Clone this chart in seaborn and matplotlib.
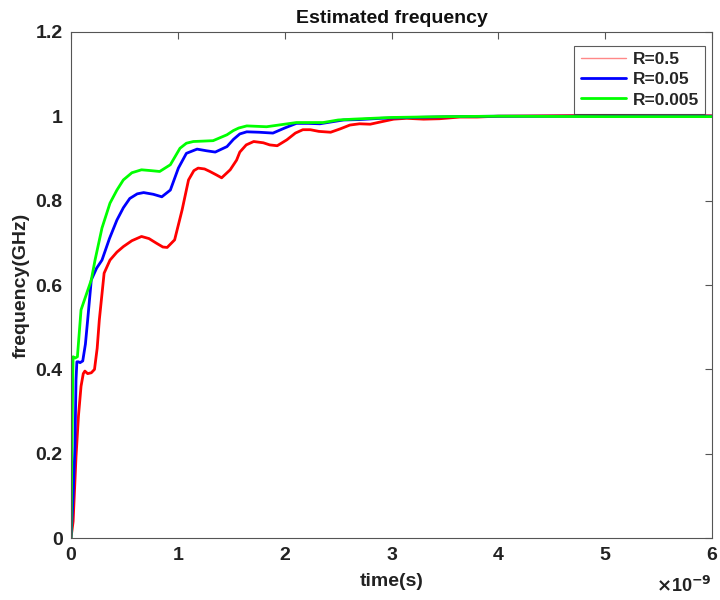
import numpy as np
import pandas as pd
import seaborn as sns
import matplotlib
matplotlib.use("Agg")
import matplotlib.pyplot as plt

# time in units of 1e-9 s
t_r05 = [0, 0.02, 0.047, 0.07, 0.094, 0.115, 0.13, 0.156, 0.19, 0.22, 0.245, 0.265, 0.31, 0.365,
         0.43, 0.49, 0.57, 0.66, 0.73, 0.80, 0.86, 0.90, 0.97, 1.04, 1.10, 1.15, 1.19, 1.25, 1.30,
         1.36, 1.41, 1.49, 1.55, 1.58, 1.64, 1.71, 1.80, 1.86, 1.93, 2.02, 2.10, 2.17, 2.24, 2.32,
         2.43, 2.52, 2.61, 2.70, 2.80, 2.89, 3.02, 3.14, 3.30, 3.45, 3.64, 3.80, 4.0, 4.5, 5.0, 5.5, 6.0]
f_r05 = [0, 0.04, 0.193, 0.29, 0.36, 0.39, 0.396, 0.39, 0.392, 0.40, 0.45, 0.517, 0.628, 0.659,
         0.678, 0.691, 0.705, 0.715, 0.710, 0.699, 0.690, 0.689, 0.707, 0.778, 0.849, 0.871, 0.877,
         0.875, 0.869, 0.861, 0.854, 0.873, 0.896, 0.915, 0.932, 0.940, 0.937, 0.932, 0.930, 0.944,
         0.960, 0.968, 0.968, 0.964, 0.962, 0.970, 0.979, 0.982, 0.981, 0.986, 0.993, 0.995, 0.993,
         0.994, 0.998, 0.998, 1.0, 1.001, 1.002, 1.001, 1.001]

t_r005 = [0, 0.02, 0.037, 0.047, 0.055, 0.07, 0.085, 0.11, 0.135, 0.156, 0.19, 0.24, 0.29, 0.36,
          0.43, 0.49, 0.55, 0.62, 0.68, 0.77, 0.85, 0.93, 1.005, 1.08, 1.18, 1.27, 1.35, 1.46,
          1.52, 1.58, 1.645, 1.76, 1.89, 2.00, 2.11, 2.22, 2.33, 2.45, 2.55, 2.70, 2.9, 3.2, 3.6,
          4.0, 5.0, 6.0]
f_r005 = [0, 0.10, 0.217, 0.375, 0.418, 0.418, 0.416, 0.42, 0.46, 0.517, 0.612, 0.64, 0.659, 0.71,
          0.754, 0.783, 0.805, 0.816, 0.819, 0.815, 0.809, 0.825, 0.877, 0.912, 0.922, 0.918, 0.915,
          0.928, 0.945, 0.958, 0.963, 0.962, 0.960, 0.972, 0.983, 0.983, 0.982, 0.987, 0.991, 0.992,
          0.995, 0.997, 0.999, 1.0, 1.0, 1.0]

t_r0005 = [0, 0.008, 0.016, 0.02, 0.04, 0.06, 0.094, 0.125, 0.19, 0.225, 0.29, 0.365, 0.43, 0.49,
           0.57, 0.66, 0.75, 0.83, 0.93, 1.02, 1.08, 1.145, 1.24, 1.33, 1.46, 1.52, 1.57, 1.645, 1.74,
           1.83, 1.97, 2.11, 2.23, 2.36, 2.50, 2.64, 3.0, 3.5, 4.0, 5.0, 6.0]
f_r0005 = [0, 0.2, 0.375, 0.43, 0.427, 0.43, 0.541, 0.564, 0.612, 0.659, 0.735, 0.794, 0.825, 0.849,
           0.866, 0.873, 0.871, 0.869, 0.885, 0.924, 0.936, 0.940, 0.941, 0.942, 0.956, 0.966, 0.972,
           0.977, 0.976, 0.975, 0.980, 0.985, 0.985, 0.985, 0.991, 0.993, 0.997, 0.999, 1.0, 0.999,
           0.999]

labels = ["R=0.5", "R=0.05", "R=0.005"]
colors = ["#ff0000", "#0000ff", "#00ff00"]

df = pd.concat([
    pd.DataFrame({"t": t_r05, "f": f_r05, "R": labels[0]}),
    pd.DataFrame({"t": t_r005, "f": f_r005, "R": labels[1]}),
    pd.DataFrame({"t": t_r0005, "f": f_r0005, "R": labels[2]}),
], ignore_index=True)

sns.set_theme(style="white")
plt.rcParams["font.family"] = ["Liberation Sans", "DejaVu Sans"]
plt.rcParams["font.weight"] = "bold"

fig = plt.figure(figsize=(7.2, 6.0), dpi=100)
ax = fig.add_axes([0.0986, 0.103, 0.8904, 0.844])

sns.lineplot(data=df, x="t", y="f", hue="R", hue_order=labels,
             palette=dict(zip(labels, colors)), linewidth=2.0, ax=ax,
             estimator=None, sort=False)
for ln in ax.get_lines():
    ln.set_solid_joinstyle("round")

ax.set_xlim(0, 6)
ax.set_ylim(0, 1.2)
ax.set_xticks(range(0, 7))
ax.set_xticklabels([str(i) for i in range(0, 7)])
yt = [0, 0.2, 0.4, 0.6, 0.8, 1.0, 1.2]
ax.set_yticks(yt)
ax.set_yticklabels(["0", "0.2", "0.4", "0.6", "0.8", "1", "1.2"])

for sp in ax.spines.values():
    sp.set_color("#555555")
    sp.set_linewidth(0.8)
ax.tick_params(direction="in", length=5, width=0.8, color="#555555",
               top=True, right=True, labelsize=14, pad=6, labelcolor="#222222")
for lab in ax.get_xticklabels() + ax.get_yticklabels():
    lab.set_fontweight("bold")

ax.set_title("Estimated frequency", fontsize=14, fontweight="bold", pad=6, color="#111111")
ax.set_xlabel("time(s)", fontsize=14, fontweight="bold", labelpad=7, color="#222222")
ax.set_ylabel("frequency(GHz)", fontsize=14, fontweight="bold", labelpad=4, color="#222222")
ax.text(1.0, -0.075, r"$\times$10$^{-9}$", transform=ax.transAxes, ha="right", va="top",
        fontsize=13, fontweight="bold", color="#222222")

leg = ax.legend(loc="upper right", bbox_to_anchor=(0.997, 0.983), frameon=True, fancybox=False,
                edgecolor="#333333", fontsize=12.5, handlelength=2.6, handletextpad=0.4,
                borderpad=0.35, labelspacing=0.3, borderaxespad=0.3)
leg.get_frame().set_linewidth(0.8)
leg.get_lines()[0].set_linewidth(1.0)
leg.get_lines()[0].set_color("#ff8888")
for txt in leg.get_texts():
    txt.set_fontweight("bold")

fig.savefig("out.png", dpi=100)
